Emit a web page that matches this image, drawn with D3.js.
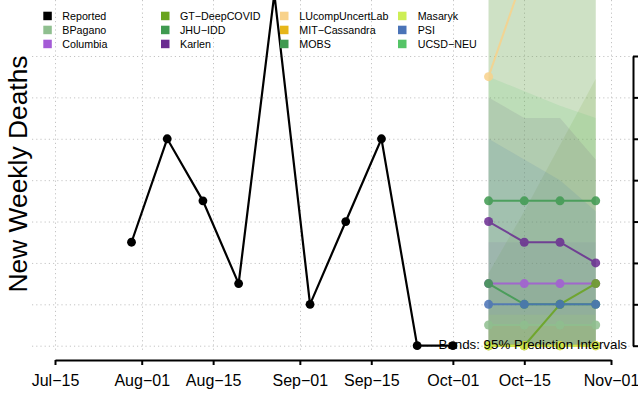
<!DOCTYPE html>
<html><head><meta charset="utf-8">
<script src="https://cdn.jsdelivr.net/npm/d3@7"></script>
<style>
html,body{margin:0;padding:0;background:#fff;}
svg{display:block;font-family:"Liberation Sans",Arial,sans-serif;}
</style></head>
<body>
<svg id="c" width="638" height="397"></svg>
<script>
// ---------- DATA ----------
const reportedDates = ["2020-07-30","2020-08-06","2020-08-13","2020-08-20","2020-08-27","2020-09-03","2020-09-10","2020-09-17","2020-09-24","2020-10-01"];
const reportedValues = [5,10,7,3,17,2,6,10,0,0];
const forecastDates = ["2020-10-08","2020-10-15","2020-10-22","2020-10-29"];
const xTickDates = ["2020-07-15","2020-08-01","2020-08-15","2020-09-01","2020-09-15","2020-10-01","2020-10-15","2020-11-01"];
const yTickValues = [0,2,4,6,8,10,12,14];

const modelNames  = ["BPagano","Columbia","GT\u2212DeepCOVID","JHU\u2212IDD","Karlen","LUcompUncertLab","MIT\u2212Cassandra","MOBS","Masaryk","PSI","UCSD\u2212NEU"];
const modelColors = ["#8fbf8f","#a45bd6","#6aa41e","#3f9a50","#6a2c91","#f8d28b","#e6b61a","#3f9a50","#cdee55","#4a73b7","#55c467"];

// point forecasts (null = no forecast)
const bpaganoMean   = [1,1,1,1];
const columbiaMean  = [3,3,3,3];
const gtMean        = [0,0,2,3];
const jhuMean       = [3,2,2,2];
const karlenMean    = [6,5,5,4];
const luMean        = [13,18,20,22];
const mitMean       = [0,0,0,0];
const mobsMean      = [7,7,7,7];
const masarykMean   = [0,0,0,0];
const psiMean       = [2,2,2,2];
const ucsdMean      = [null,null,null,null];

// 95% prediction interval upper bounds (lower bounds at 0)
const bpaganoUpper  = [3,3,3,3];
const columbiaUpper = [5,5,5,5];
const gtUpper       = [3.5,6.5,9.7,12.9];
const jhuUpper      = [30,30,30,30];
const karlenUpper   = [12,11,11,9];
const luUpper       = [30,35,40,45];
const mitUpper      = [1,1,1,1];
const mobsUpper     = [30,30,30,30];
const masarykUpper  = [1.5,1.5,1.5,1.5];
const psiUpper      = [10,9,8,6.5];
const ucsdUpper     = [13,12.3,11.6,11];
const lowerBound    = [0,0,0,0];

const meanSets  = [bpaganoMean,columbiaMean,gtMean,jhuMean,karlenMean,luMean,mitMean,mobsMean,masarykMean,psiMean,ucsdMean];
const upperSets = [bpaganoUpper,columbiaUpper,gtUpper,jhuUpper,karlenUpper,luUpper,mitUpper,mobsUpper,masarykUpper,psiUpper,ucsdUpper];

// ---------- CHART ----------
const parse = d3.utcParse("%Y-%m-%d");
const svg = d3.select("#c");

const x = d3.scaleUtc().domain([parse("2020-07-15"), parse("2020-11-01")]).range([55, 611]);
const y = d3.scaleLinear().domain([0, 14]).range([345.7, 56]);

const plotLeft = 32, plotRight = 633, plotTop = -200, plotBottom = 352;

svg.append("defs").append("clipPath").attr("id","clip")
  .append("rect").attr("x",plotLeft).attr("y",plotTop)
  .attr("width",plotRight-plotLeft).attr("height",plotBottom-plotTop);

// grid
const grid = svg.append("g").attr("stroke","#c4c4c4").attr("stroke-width",1).attr("stroke-dasharray","1.2,3");
grid.selectAll("line.h").data(yTickValues).join("line")
  .attr("x1",plotLeft).attr("x2",plotRight)
  .attr("y1",d=>y(d)+0.5).attr("y2",d=>y(d)+0.5);
grid.selectAll("line.v").data(xTickDates).join("line")
  .attr("x1",d=>Math.round(x(parse(d)))+0.5).attr("x2",d=>Math.round(x(parse(d)))+0.5)
  .attr("y1",0).attr("y2",plotBottom);

const plot = svg.append("g").attr("clip-path","url(#clip)");

// bands
const fd = forecastDates.map(parse);
const area = d3.area().x((d,i)=>x(fd[i])).y0((d,i)=>y(lowerBound[i])).y1(d=>y(d));
plot.append("g").selectAll("path").data(upperSets).join("path")
  .attr("d", d=>area(d))
  .attr("fill",(d,i)=>modelColors[i])
  .attr("fill-opacity",0.14)
  .attr("stroke","none");

// reported
const rd = reportedDates.map(parse);
const line = d3.line().x(d=>x(d[0])).y(d=>y(d[1]));
const repPts = rd.map((d,i)=>[d, reportedValues[i]]);
plot.append("path").attr("d", line(repPts)).attr("fill","none").attr("stroke","#000").attr("stroke-width",2.2);
plot.append("g").selectAll("circle").data(repPts).join("circle")
  .attr("cx",d=>x(d[0])).attr("cy",d=>y(d[1])).attr("r",4.4).attr("fill","#000");

// forecasts
meanSets.forEach((vals,i)=>{
  const pts = vals.map((v,j)=>[fd[j], v]).filter(p=>p[1]!==null);
  if(!pts.length) return;
  const g = plot.append("g").attr("opacity",0.85);
  g.append("path").attr("d", line(pts)).attr("fill","none").attr("stroke",modelColors[i]).attr("stroke-width",2);
  g.selectAll("circle").data(pts).join("circle")
    .attr("cx",d=>x(d[0])).attr("cy",d=>y(d[1])).attr("r",4.5).attr("fill",modelColors[i]);
});

// note
svg.append("text").attr("x",627).attr("y",348.5).attr("text-anchor","end")
  .attr("font-size",13.3).attr("fill","#000").text("Bands: 95% Prediction Intervals");

// x axis
const xAxis = d3.axisBottom(x).tickValues(xTickDates.map(parse))
  .tickFormat(d3.utcFormat("%b\u2212%d")).tickSize(5).tickSizeOuter(0).tickPadding(10);
const gx = svg.append("g").attr("transform","translate(0,360)").call(xAxis);
gx.select(".domain").attr("stroke","#000").attr("stroke-width",2);
gx.selectAll(".tick line").attr("stroke","#000").attr("stroke-width",2);
gx.selectAll(".tick text").attr("font-size",16).attr("fill","#000").attr("font-family","Liberation Sans, Arial, sans-serif");

// right axis
const yAxis = d3.axisRight(y).tickValues(yTickValues).tickFormat("").tickSize(7).tickSizeOuter(0);
const gy = svg.append("g").attr("transform","translate(633,0)").call(yAxis);
gy.select(".domain").attr("stroke","#000").attr("stroke-width",2);
gy.selectAll(".tick line").attr("stroke","#000").attr("stroke-width",2);

// y label
svg.append("text").attr("transform","translate(26.5,174) rotate(-90)")
  .attr("text-anchor","middle").attr("font-size",26.4).attr("fill","#000").text("New Weekly Deaths");

// legend
const legendNames  = ["Reported"].concat(modelNames);
const legendColors = ["#000"].concat(modelColors);
const colSquareX = [43.3,161,280,398];
const colTextX   = [62.3,180,299.3,417.7];
const rowY = [15.7,29.7,43.7];
const lg = svg.append("g");
legendNames.forEach((n,i)=>{
  const c = Math.floor(i/3), r = i%3;
  lg.append("rect").attr("x",colSquareX[c]).attr("y",rowY[r]-4).attr("width",8.5).attr("height",8.5).attr("fill",legendColors[i]);
  lg.append("text").attr("x",colTextX[c]).attr("y",rowY[r]+4).attr("font-size",10.7).attr("fill","#000").text(n);
});
</script>
</body></html>
